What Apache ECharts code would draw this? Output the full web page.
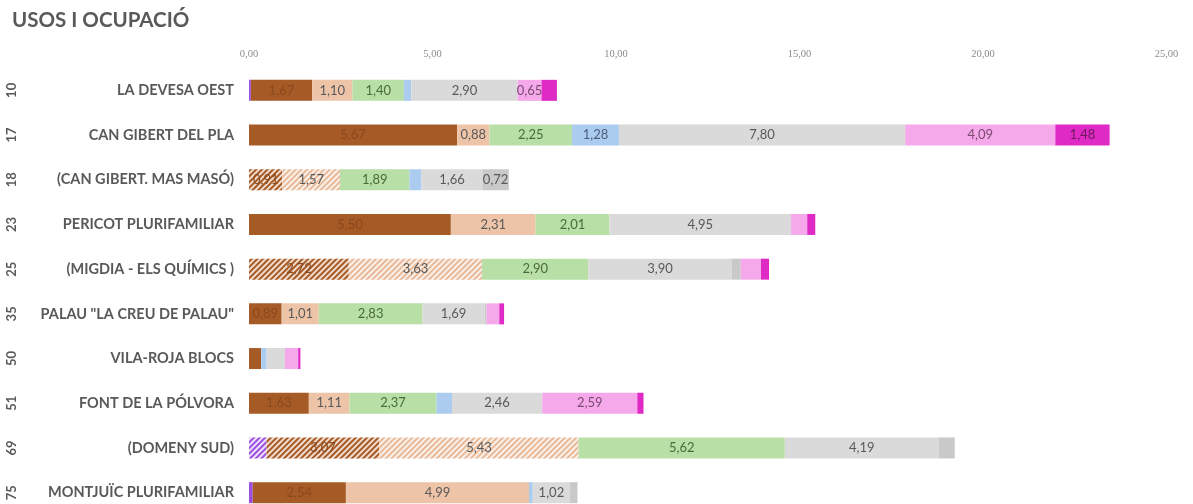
<!DOCTYPE html>
<html>
<head>
<meta charset="utf-8">
<script src="https://cdn.jsdelivr.net/npm/echarts@6/dist/echarts.min.js"></script>
<style>
html,body{margin:0;padding:0;background:#fff;}
#chart{width:1193px;height:504px;}
</style>
</head>
<body>
<div id="chart"></div>
<script>
const title = 'USOS I OCUPACIÓ';
const codes = ['10','17','18','23','25','35','50','51','69','75'];
const names = ['LA DEVESA OEST','CAN GIBERT DEL PLA','(CAN GIBERT. MAS MASÓ)','PERICOT PLURIFAMILIAR','(MIGDIA - ELS QUÍMICS )','PALAU "LA CREU DE PALAU"','VILA-ROJA BLOCS','FONT DE LA PÓLVORA','(DOMENY SUD)','MONTJUÏC PLURIFAMILIAR'];
const xTicks = [0,5,10,15,20,25];
const hatchedRows = [2,4,8];

const purple   = [0.05,0,0,0,0,0,0,0,0.48,0.10];
const brown    = [1.67,5.67,0.91,5.50,2.72,0.89,0.33,1.63,3.07,2.54];
const peach    = [1.10,0.88,1.57,2.31,3.63,1.01,0,1.11,5.43,4.99];
const green    = [1.40,2.25,1.89,2.01,2.90,2.83,0,2.37,5.62,0];
const blue     = [0.20,1.28,0.33,0,0,0,0.15,0.42,0,0.10];
const gray     = [2.90,7.80,1.66,4.95,3.90,1.69,0.50,2.46,4.19,1.02];
const darkgray = [0,0,0.72,0,0.25,0.05,0,0,0.44,0.20];
const pink     = [0.65,4.09,0,0.44,0.55,0.35,0.36,2.59,0,0];
const magenta  = [0.42,1.48,0,0.22,0.22,0.13,0.06,0.17,0,0];

const seriesDefs = [
  {name:'purple', data:purple, color:'#9a4fe0', label:'#595959', hatch:{base:'#efe3fb', line:'#9a4fe0'}},
  {name:'brown', data:brown, color:'#a65a26', label:'#8a4a1e', hatch:{base:'#f1dccd', line:'#a65a26'}},
  {name:'peach', data:peach, color:'#eec4a8', label:'#595959', hatch:{base:'#fcf1ea', line:'#e7b998'}},
  {name:'green', data:green, color:'#b8dfa6', label:'#4a6a3a'},
  {name:'blue', data:blue, color:'#abcbef', label:'#4a5f7a'},
  {name:'gray', data:gray, color:'#dadada', label:'#595959'},
  {name:'darkgray', data:darkgray, color:'#c9c9c9', label:'#595959'},
  {name:'pink', data:pink, color:'#f5a9ea', label:'#7a4a70'},
  {name:'magenta', data:magenta, color:'#e02ac6', label:'#6a1a5a'}
];

const fmt = v => v.toFixed(2).replace('.', ',');

const series = seriesDefs.map(d => ({
  name: d.name,
  type: 'bar',
  stack: 'total',
  barWidth: 21,
  itemStyle: {color: d.color},
  label: {
    show: true,
    position: 'inside',
    color: d.label,
    fontFamily: 'Lato',
    fontSize: 13,
    formatter: p => (p.value >= 0.6 ? fmt(p.value) : '')
  },
  data: d.data.map((v, i) => {
    if (d.hatch && hatchedRows.includes(i)) {
      return {
        value: v,
        itemStyle: {
          color: d.hatch.base,
          decal: {
            symbol: 'rect',
            symbolSize: 1,
            dashArrayX: [1, 0],
            dashArrayY: [2, 1.5],
            rotation: -Math.PI / 4,
            color: d.hatch.line
          }
        }
      };
    }
    return v;
  })
}));

const chart = echarts.init(document.getElementById('chart'));
chart.setOption({
  animation: false,
  backgroundColor: '#ffffff',
  title: {
    text: title,
    left: 7,
    top: 5,
    textStyle: {fontFamily: 'Lato', fontWeight: 'bold', fontSize: 20.5, color: '#595959'}
  },
  grid: {left: 249, right: 26.5, top: 68, height: 447, containLabel: false, outerBoundsMode: 'none'},
  xAxis: {
    type: 'value',
    position: 'top',
    min: xTicks[0],
    max: xTicks[xTicks.length - 1],
    interval: xTicks[1] - xTicks[0],
    axisLine: {show: false},
    axisTick: {show: false},
    splitLine: {show: false},
    axisLabel: {
      margin: 8,
      color: '#8c8c8c',
      fontFamily: 'Liberation Serif',
      fontSize: 10.5,
      formatter: v => fmt(v)
    }
  },
  yAxis: [
    {
      type: 'category',
      inverse: true,
      data: names,
      axisLine: {show: false},
      axisTick: {show: false},
      axisLabel: {
        margin: 15,
        color: '#595959',
        fontFamily: 'Lato',
        fontWeight: 'bold',
        fontSize: 14.5
      }
    },
    {
      type: 'category',
      inverse: true,
      position: 'left',
      offset: 231,
      data: codes,
      axisLine: {show: false},
      axisTick: {show: false},
      axisLabel: {
        margin: 0,
        rotate: 90,
        color: '#595959',
        fontFamily: 'Lato',
        fontWeight: 'bold',
        fontSize: 13
      }
    }
  ],
  series: series
});
</script>
</body>
</html>
